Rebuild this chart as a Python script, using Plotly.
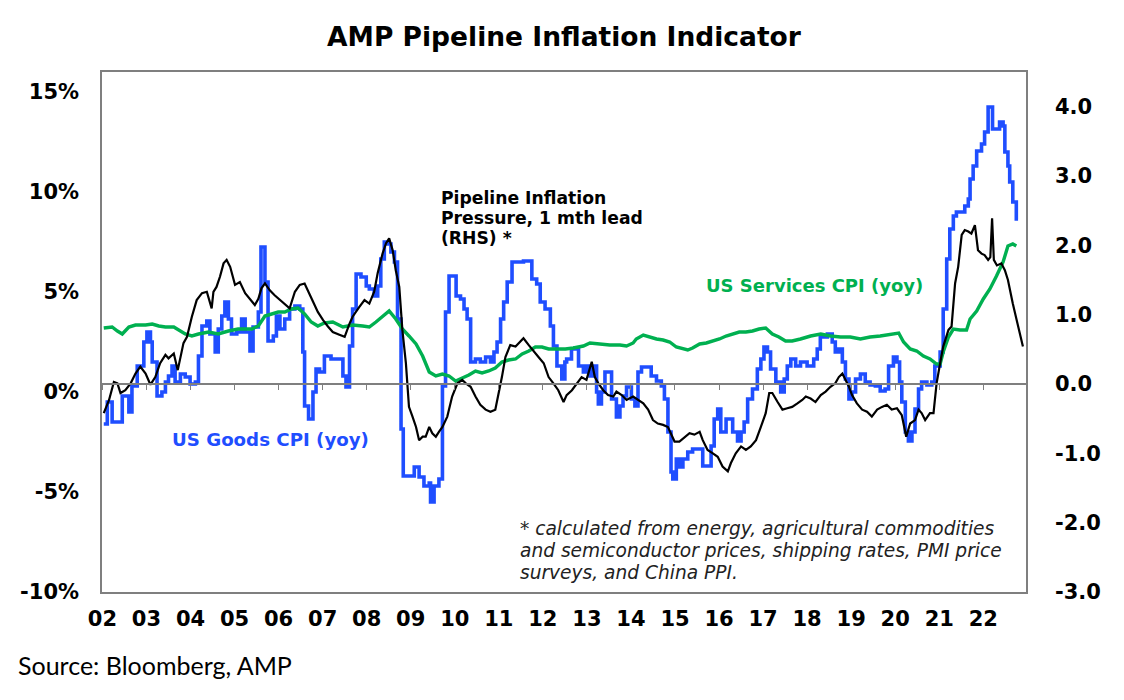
import plotly.graph_objects as go

# ---------------- data ----------------
goods_t = [2002.03, 2002.11, 2002.22, 2002.41, 2002.45, 2002.60, 2002.67, 2002.79, 2002.94, 2003.01,
           2003.09, 2003.13, 2003.24, 2003.35, 2003.43, 2003.50, 2003.58, 2003.65, 2003.77, 2003.88,
           2003.99, 2004.11, 2004.18, 2004.26, 2004.37, 2004.44, 2004.56, 2004.63, 2004.71, 2004.78,
           2004.86, 2004.93, 2005.05, 2005.16, 2005.24, 2005.35, 2005.42, 2005.54, 2005.60, 2005.69,
           2005.76, 2005.88, 2005.95, 2006.03, 2006.14, 2006.25, 2006.37, 2006.48, 2006.55, 2006.59,
           2006.68, 2006.78, 2006.85, 2006.93, 2007.04, 2007.19, 2007.38, 2007.46, 2007.53, 2007.61,
           2007.68, 2007.76, 2007.87, 2007.99, 2008.06, 2008.17, 2008.25, 2008.32, 2008.40, 2008.48,
           2008.55, 2008.63, 2008.70, 2008.78, 2008.83, 2009.08, 2009.19, 2009.30, 2009.42, 2009.45,
           2009.53, 2009.64, 2009.72, 2009.79, 2009.87, 2010.03, 2010.13, 2010.21, 2010.28, 2010.36,
           2010.47, 2010.58, 2010.70, 2010.81, 2010.89, 2010.96, 2011.04, 2011.11, 2011.19, 2011.30,
           2011.56, 2011.75, 2011.86, 2011.94, 2012.05, 2012.17, 2012.24, 2012.32, 2012.43, 2012.50,
           2012.54, 2012.65, 2012.73, 2012.81, 2012.92, 2012.99, 2013.07, 2013.14, 2013.22, 2013.26,
           2013.33, 2013.41, 2013.56, 2013.67, 2013.75, 2013.82, 2013.90, 2014.01, 2014.09, 2014.16,
           2014.24, 2014.46, 2014.58, 2014.69, 2014.76, 2014.84, 2014.91, 2014.95, 2015.03, 2015.10,
           2015.18, 2015.29, 2015.40, 2015.63, 2015.82, 2015.89, 2015.97, 2016.04, 2016.16, 2016.31,
           2016.42, 2016.50, 2016.57, 2016.65, 2016.76, 2016.87, 2016.95, 2017.02, 2017.10, 2017.17,
           2017.29, 2017.40, 2017.48, 2017.55, 2017.63, 2017.74, 2017.85, 2018.00, 2018.15, 2018.23,
           2018.30, 2018.46, 2018.57, 2018.64, 2018.72, 2018.80, 2018.87, 2018.95, 2019.02, 2019.10,
           2019.21, 2019.32, 2019.43, 2019.55, 2019.66, 2019.77, 2019.85, 2019.96, 2020.04, 2020.10,
           2020.15, 2020.23, 2020.30, 2020.38, 2020.45, 2020.53, 2020.60, 2020.72, 2020.83, 2020.90,
           2021.02, 2021.09, 2021.17, 2021.24, 2021.32, 2021.39, 2021.58, 2021.66, 2021.70, 2021.77,
           2021.85, 2021.96, 2022.03, 2022.11, 2022.21, 2022.37, 2022.45, 2022.49, 2022.56, 2022.60,
           2022.67, 2022.75, 2022.79]
goods_v = [-1.6, -0.5, -1.5, -1.5, -0.2, -1.0, 0.3, 1.3, 2.5, 3.0,
           2.5, 1.5, -0.2, 0.0, 0.5, 0.8, 1.3, 0.5, 0.9, 0.75,
           0.4, 0.5, 1.8, 3.3, 3.55, 2.9, 2.0, 3.15, 3.8, 4.5,
           3.65, 2.9, 3.0, 3.65, 3.0, 2.05, 3.25, 4.0, 7.25, 5.5,
           2.55, 2.8, 3.8, 3.15, 3.65, 4.15, 4.3, 4.15, 2.0, -0.7,
           -1.35, 0.0, 1.15, 1.0, 1.8, 1.65, 1.65, 0.8, 0.25, 2.3,
           4.15, 5.9, 5.75, 5.3, 5.15, 4.8, 5.3, 6.65, 7.5, 7.4,
           7.0, 6.5, 3.65, -1.85, -4.2, -3.75, -4.25, -4.7, -4.55, -5.5,
           -4.7, -4.35, 0.3, 4.0, 5.8, 4.8, 4.65, 4.15, 3.65, 1.5,
           1.65, 1.5, 1.75, 1.5, 2.0, 2.5, 3.65, 4.5, 5.5, 6.5,
           6.55, 5.65, 5.4, 4.5, 4.15, 3.3, 2.3, 1.3, 0.65, 1.5,
           1.65, 2.15, 2.2, 1.3, 1.0, 1.3, 0.8, 1.3, 0.0, -0.6,
           0.0, 1.0, -0.35, -1.25, -0.7, -0.2, 0.25, -0.35, -0.7, 1.0,
           1.25, 0.8, 0.55, 0.3, -0.35, -2.0, -4.0, -4.35, -3.35, -3.75,
           -3.35, -3.0, -2.85, -3.7, -2.7, -1.35, -0.85, -2.0, -1.35, -2.0,
           -2.45, -2.0, -1.5, -0.35, 0.15, 1.15, 1.65, 2.25, 2.0, 1.15,
           0.5, 0.0, 0.65, 1.3, 1.65, 1.3, 1.5, 1.3, 1.65, 2.15,
           2.75, 2.9, 2.5, 2.0, 2.15, 1.5, 0.65, -0.35, 0.0, 0.65,
           0.9, 0.5, 0.35, 0.3, 0.05, 0.15, 1.3, 1.75, 1.5, 0.5,
           -0.5, -2.0, -2.45, -2.0, -0.85, 0.15, 0.5, 0.35, 0.5, 1.3,
           2.0, 4.15, 6.65, 8.15, 8.8, 9.0, 9.3, 9.65, 10.65, 11.3,
           12.05, 12.4, 13.0, 14.25, 13.15, 13.5, 13.3, 12.0, 11.3, 10.5,
           9.5, 8.65, 8.65]

services_t = [2002.03, 2002.22, 2002.34, 2002.45, 2002.60, 2002.75, 2002.98, 2003.13, 2003.28, 2003.43,
              2003.62, 2003.77, 2003.88, 2004.03, 2004.18, 2004.41, 2004.63, 2004.86, 2005.08, 2005.39,
              2005.54, 2005.69, 2005.84, 2005.99, 2006.14, 2006.29, 2006.44, 2006.59, 2006.74, 2006.89,
              2007.04, 2007.23, 2007.46, 2007.68, 2007.91, 2008.06, 2008.21, 2008.36, 2008.51, 2008.66,
              2008.81, 2008.96, 2009.12, 2009.27, 2009.42, 2009.57, 2009.72, 2009.87, 2010.02, 2010.17,
              2010.32, 2010.47, 2010.62, 2010.77, 2010.92, 2011.07, 2011.22, 2011.38, 2011.53, 2011.68,
              2011.83, 2011.98, 2012.13, 2012.28, 2012.51, 2012.69, 2012.92, 2013.07, 2013.30, 2013.52,
              2013.75, 2013.90, 2014.05, 2014.12, 2014.28, 2014.43, 2014.58, 2014.73, 2014.88, 2015.03,
              2015.18, 2015.29, 2015.40, 2015.56, 2015.71, 2015.86, 2016.01, 2016.16, 2016.31, 2016.46,
              2016.61, 2016.76, 2016.91, 2017.06, 2017.21, 2017.36, 2017.51, 2017.66, 2017.85, 2018.08,
              2018.31, 2018.53, 2018.76, 2018.98, 2019.21, 2019.43, 2019.66, 2019.89, 2020.08, 2020.19,
              2020.34, 2020.49, 2020.64, 2020.79, 2020.94, 2021.02, 2021.09, 2021.21, 2021.32, 2021.47,
              2021.62, 2021.70, 2021.85, 2022.00, 2022.15, 2022.30, 2022.45, 2022.56, 2022.67, 2022.75]
services_v = [3.2, 3.25, 3.05, 2.9, 3.25, 3.35, 3.35, 3.4, 3.3, 3.25,
              3.25, 3.05, 2.9, 2.8, 2.9, 3.0, 2.9, 3.05, 3.15, 3.15,
              3.3, 3.8, 3.9, 4.0, 4.0, 4.15, 4.2, 3.9, 3.5, 3.3,
              3.45, 3.5, 3.25, 3.35, 3.3, 3.25, 3.5, 3.75, 4.05, 3.65,
              3.15, 2.8, 2.4, 1.8, 1.0, 0.8, 0.9, 0.8, 0.55, 0.7,
              0.85, 1.05, 0.95, 1.05, 1.2, 1.5, 1.6, 1.65, 1.9, 2.05,
              2.25, 2.25, 2.15, 2.15, 2.15, 2.2, 2.3, 2.45, 2.4, 2.35,
              2.35, 2.3, 2.45, 2.65, 2.85, 2.75, 2.65, 2.6, 2.5, 2.25,
              2.15, 2.1, 2.2, 2.4, 2.45, 2.55, 2.65, 2.8, 2.9, 3.0,
              3.0, 3.05, 3.15, 3.2, 2.9, 2.75, 2.55, 2.55, 2.65, 2.8,
              2.9, 2.8, 2.75, 2.75, 2.65, 2.75, 2.8, 2.9, 2.95, 2.5,
              2.15, 2.05, 1.8, 1.65, 1.4, 1.4, 2.0, 2.75, 3.15, 3.1,
              3.1, 3.65, 4.05, 4.65, 5.15, 5.8, 6.5, 7.3, 7.4, 7.3]

pipeline_t = [2002.03, 2002.15, 2002.26, 2002.34, 2002.41, 2002.52, 2002.64, 2002.75, 2002.86, 2002.98,
              2003.09, 2003.20, 2003.31, 2003.43, 2003.50, 2003.62, 2003.71, 2003.77, 2003.84, 2003.92,
              2004.03, 2004.14, 2004.26, 2004.37, 2004.48, 2004.52, 2004.59, 2004.67, 2004.75, 2004.82,
              2004.90, 2005.01, 2005.12, 2005.24, 2005.35, 2005.46, 2005.54, 2005.61, 2005.69, 2005.80,
              2005.91, 2006.03, 2006.14, 2006.25, 2006.37, 2006.48, 2006.59, 2006.67, 2006.78, 2006.89,
              2007.01, 2007.12, 2007.23, 2007.38, 2007.50, 2007.61, 2007.68, 2007.83, 2007.95, 2008.06,
              2008.17, 2008.25, 2008.36, 2008.44, 2008.51, 2008.59, 2008.66, 2008.74, 2008.81, 2008.89,
              2008.96, 2009.04, 2009.12, 2009.19, 2009.27, 2009.34, 2009.42, 2009.49, 2009.57, 2009.64,
              2009.72, 2009.83, 2009.94, 2010.06, 2010.17, 2010.25, 2010.36, 2010.47, 2010.58, 2010.70,
              2010.81, 2010.92, 2011.00, 2011.07, 2011.15, 2011.26, 2011.38, 2011.45, 2011.56, 2011.68,
              2011.79, 2011.90, 2012.02, 2012.13, 2012.24, 2012.35, 2012.47, 2012.54, 2012.66, 2012.77,
              2012.88, 2012.99, 2013.11, 2013.18, 2013.26, 2013.37, 2013.48, 2013.60, 2013.67, 2013.79,
              2013.90, 2014.05, 2014.16, 2014.28, 2014.39, 2014.50, 2014.61, 2014.73, 2014.84, 2014.91,
              2014.99, 2015.10, 2015.22, 2015.33, 2015.44, 2015.56, 2015.63, 2015.74, 2015.86, 2015.97,
              2016.08, 2016.20, 2016.27, 2016.38, 2016.50, 2016.61, 2016.72, 2016.84, 2016.95, 2017.06,
              2017.14, 2017.21, 2017.33, 2017.44, 2017.55, 2017.66, 2017.78, 2017.89, 2017.97, 2018.08,
              2018.19, 2018.31, 2018.42, 2018.53, 2018.64, 2018.72, 2018.80, 2018.87, 2018.95, 2019.02,
              2019.13, 2019.25, 2019.36, 2019.47, 2019.59, 2019.70, 2019.81, 2019.92, 2020.04, 2020.15,
              2020.25, 2020.34, 2020.45, 2020.53, 2020.60, 2020.68, 2020.79, 2020.87, 2020.94, 2021.02,
              2021.09, 2021.21, 2021.28, 2021.36, 2021.43, 2021.51, 2021.58, 2021.66, 2021.73, 2021.81,
              2021.88, 2021.96, 2022.03, 2022.11, 2022.16, 2022.20, 2022.24, 2022.31, 2022.41, 2022.49,
              2022.56, 2022.67, 2022.79, 2022.90]
pipeline_v = [-0.42, -0.23, 0.03, 0.01, -0.13, -0.09, 0.01, 0.15, 0.25, 0.15,
              -0.01, 0.10, 0.30, 0.42, 0.37, 0.44, 0.20, 0.39, 0.59, 0.68,
              0.97, 1.21, 1.31, 1.33, 1.09, 1.33, 1.40, 1.55, 1.74, 1.79,
              1.69, 1.43, 1.47, 1.31, 1.23, 1.14, 1.23, 1.38, 1.45, 1.35,
              1.28, 1.21, 1.14, 1.09, 1.33, 1.43, 1.45, 1.33, 1.19, 1.04,
              0.92, 0.83, 0.75, 0.71, 0.68, 0.87, 0.97, 1.11, 1.21, 1.16,
              1.33, 1.60, 1.88, 2.03, 2.10, 1.93, 1.64, 1.40, 0.78, 0.30,
              -0.33, -0.47, -0.62, -0.81, -0.76, -0.76, -0.62, -0.71, -0.76, -0.69,
              -0.62, -0.47, -0.18, 0.01, 0.06, 0.01, -0.04, -0.18, -0.30, -0.37,
              -0.40, -0.37, -0.13, 0.10, 0.39, 0.56, 0.54, 0.59, 0.66, 0.56,
              0.47, 0.39, 0.30, 0.10, 0.01, -0.09, -0.26, -0.16, -0.09, 0.01,
              0.10, 0.06, 0.32, 0.10, 0.01, -0.09, -0.16, -0.18, -0.11, -0.16,
              -0.23, -0.18, -0.23, -0.28, -0.37, -0.52, -0.57, -0.59, -0.62, -0.71,
              -0.83, -0.83, -0.76, -0.71, -0.73, -0.69, -0.81, -0.95, -1.00, -1.05,
              -1.19, -1.26, -1.14, -1.00, -0.90, -0.95, -0.90, -0.81, -0.62, -0.42,
              -0.13, -0.13, -0.26, -0.37, -0.35, -0.33, -0.28, -0.23, -0.18, -0.21,
              -0.26, -0.16, -0.11, -0.04, 0.01, 0.10, 0.15, 0.06, -0.04, -0.16,
              -0.28, -0.37, -0.40, -0.47, -0.37, -0.33, -0.30, -0.37, -0.35, -0.45,
              -0.76, -0.57, -0.52, -0.37, -0.42, -0.52, -0.42, -0.42, 0.01, 0.30,
              0.54, 0.78, 0.83, 1.45, 1.69, 2.15, 2.22, 2.20, 2.17, 2.29,
              1.93, 1.88, 1.86, 1.79, 1.83, 2.39, 1.79, 1.71, 1.74, 1.64,
              1.50, 1.16, 0.83, 0.54]

year_ticks = [2002, 2003, 2004, 2005, 2006, 2007, 2008, 2009, 2010, 2011, 2012,
              2013, 2014, 2015, 2016, 2017, 2018, 2019, 2020, 2021, 2022]
year_labels = ["02", "03", "04", "05", "06", "07", "08", "09", "10", "11", "12",
               "13", "14", "15", "16", "17", "18", "19", "20", "21", "22"]
left_ticks = [-10, -5, 0, 5, 10, 15]
left_labels = ["-10%", "-5%", "0%", "5%", "10%", "15%"]
right_ticks = [-3, -2, -1, 0, 1, 2, 3, 4]
right_labels = ["-3.0", "-2.0", "-1.0", "0.0", "1.0", "2.0", "3.0", "4.0"]

x_range = [2001.99, 2022.97]
left_range = [-10, 16]
right_range = [-3, 4.5]

# ---------------- styling ----------------
BLUE = "#1F4EFF"
GREEN = "#00B050"
AXIS_GREY = "#7F7F7F"
FONT = "DejaVu Sans"

# the page places the figure 8px in from the top-left corner; compensate
OFF = 8
PLOT_L, PLOT_T, PLOT_W, PLOT_H = 98 - OFF, 72 - OFF, 928, 520
W, H = 1124, 700

zero_pos = (0 - right_range[0]) / (right_range[1] - right_range[0])

fig = go.Figure()
fig.add_trace(go.Scatter(x=goods_t, y=goods_v, mode="lines", name="US Goods CPI (yoy)",
                         line=dict(color=BLUE, width=3.6, shape="hv"), xaxis="x", yaxis="y"))
fig.add_trace(go.Scatter(x=services_t, y=services_v, mode="lines", name="US Services CPI (yoy)",
                         line=dict(color=GREEN, width=3.4), xaxis="x", yaxis="y"))
fig.add_trace(go.Scatter(x=pipeline_t, y=pipeline_v, mode="lines", name="Pipeline Inflation Pressure",
                         line=dict(color="#000000", width=2.2), xaxis="x2", yaxis="y2"))

tick_font = dict(family=FONT, size=21, color="#000000", weight="bold")

fig.update_layout(
    width=W, height=H,
    margin=dict(l=PLOT_L, r=W - PLOT_L - PLOT_W, t=PLOT_T, b=H - PLOT_T - PLOT_H),
    paper_bgcolor="white", plot_bgcolor="white",
    showlegend=False,
    title=dict(text="AMP Pipeline Inflation Indicator", x=0.5, xref="paper", xanchor="center",
               y=1 - (37 - OFF) / H, yref="container", yanchor="middle",
               font=dict(family=FONT, size=26.5, color="#000000", weight="bold")),
    xaxis=dict(range=x_range, tickmode="array", tickvals=year_ticks, ticktext=year_labels,
               showgrid=False, zeroline=False, showline=True, mirror=True,
               linecolor=AXIS_GREY, linewidth=1.5, ticks="", tickfont=tick_font,
               ticklabelstandoff=7),
    xaxis2=dict(range=x_range, overlaying="x", anchor="free", position=zero_pos,
                tickmode="array", tickvals=year_ticks, showticklabels=False,
                ticks="outside", ticklen=5, tickwidth=1.3, tickcolor=AXIS_GREY,
                showgrid=False, zeroline=False, showline=True,
                linecolor=AXIS_GREY, linewidth=1.6),
    yaxis=dict(range=left_range, tickmode="array", tickvals=left_ticks, ticktext=left_labels,
               showgrid=False, zeroline=False, showline=True, mirror=True,
               linecolor=AXIS_GREY, linewidth=1.5, ticks="", tickfont=tick_font,
               ticklabelstandoff=17),
    yaxis2=dict(range=right_range, overlaying="y", side="right", anchor="x",
                tickmode="array", tickvals=right_ticks, ticktext=right_labels,
                showgrid=False, zeroline=False, showline=False, ticks="",
                tickfont=tick_font, ticklabelstandoff=28),
)

ann_font = dict(family=FONT, size=17.2, color="#000000", weight="bold")
pipeline_lines = ["Pipeline Inflation", "Pressure, 1 mth lead", "(RHS) *"]
for i, line in enumerate(pipeline_lines):
    fig.add_annotation(text=line, xref="paper", yref="paper", x=(436 - 98) / PLOT_W,
                       y=(592 - (198 + 20 * i)) / PLOT_H,
                       xanchor="left", yanchor="middle", showarrow=False, font=ann_font)

fig.add_annotation(text="US Services CPI (yoy)", xref="paper", yref="paper",
                   x=(703 - 98) / PLOT_W, y=(592 - 285) / PLOT_H,
                   xanchor="left", yanchor="middle", showarrow=False,
                   font=dict(family=FONT, size=18, color=GREEN, weight="bold"))
fig.add_annotation(text="US Goods CPI (yoy)", xref="paper", yref="paper",
                   x=(166 - 98) / PLOT_W, y=(592 - 440) / PLOT_H,
                   xanchor="left", yanchor="middle", showarrow=False,
                   font=dict(family=FONT, size=18.2, color=BLUE, weight="bold"))

note_lines = ["* calculated from energy, agricultural commodities",
              "and semiconductor prices, shipping rates, PMI price",
              "surveys, and China PPI."]
for i, line in enumerate(note_lines):
    fig.add_annotation(text=line, xref="paper", yref="paper", x=(516 - 98) / PLOT_W,
                       y=(592 - (528 + 22 * i)) / PLOT_H,
                       xanchor="left", yanchor="middle", showarrow=False,
                       font=dict(family=FONT, size=18.6, color="#222222", style="italic"))

fig.add_annotation(text="Source: Bloomberg, AMP", xref="paper", yref="paper",
                   x=(12 - 98) / PLOT_W, y=(592 - 665) / PLOT_H, xanchor="left", yanchor="middle",
                   showarrow=False, font=dict(family="Lato", size=25, color="#000000"))

fig.write_html("out.html")
